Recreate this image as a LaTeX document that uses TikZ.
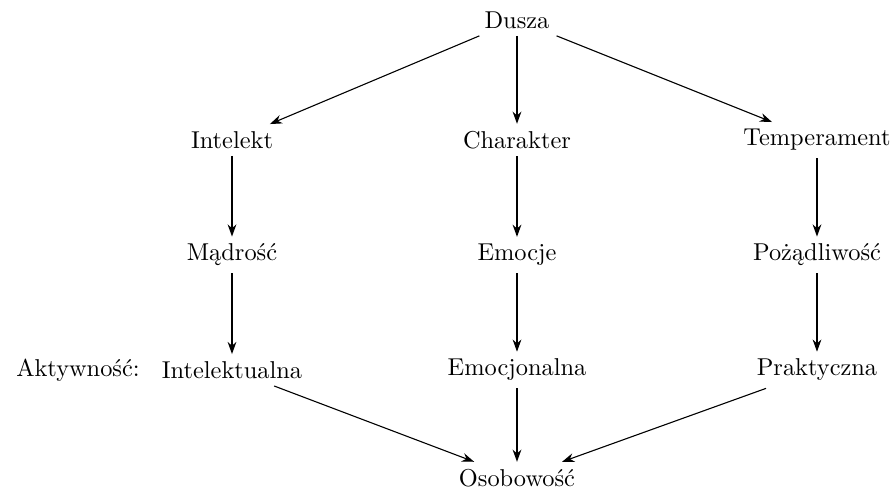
\documentclass[tikz,border=0pt]{standalone}
\usepackage{tikz}
\usetikzlibrary{arrows.meta,positioning}

\begin{document}
\begin{tikzpicture}[->, >={Stealth[length=5pt,width=3.6pt]}, line width=0.45pt, x=0.41pt, y=-0.41pt]
\tikzstyle{every node}=[inner sep=2.8pt]
\useasboundingbox (0,0) rectangle (891,494);
\node (dusza)   at (517,20)  {Dusza};
\node (intel)   at (232,140) {Intelekt};
\node (char)    at (517,140) {Charakter};
\node (temp)    at (817,140) {Temperament};
\node (madr)    at (232,255) {M\k{a}dro\'s\'c};
\node (emoc)    at (517,255) {Emocje};
\node (pozad)   at (817,255) {Po\.z\k{a}dliwo\'s\'c};
\node (intakt)  at (232,370) {Intelektualna};
\node (emakt)   at (517,370) {Emocjonalna};
\node (prakt)   at (817,370) {Praktyczna};
\node (akt)     at (78,370)  {Aktywno\'s\'c:};
\node (osob)    at (517,478) {Osobowo\'s\'c};
\path
(dusza) edge (intel)
        edge (char)
        edge (temp)
(intel) edge (madr)
(char)  edge (emoc)
(temp)  edge (pozad)
(madr)  edge (intakt)
(emoc)  edge (emakt)
(pozad) edge (prakt)
(intakt) edge (osob)
(emakt) edge (osob)
(prakt) edge (osob);
\end{tikzpicture}
\end{document}
